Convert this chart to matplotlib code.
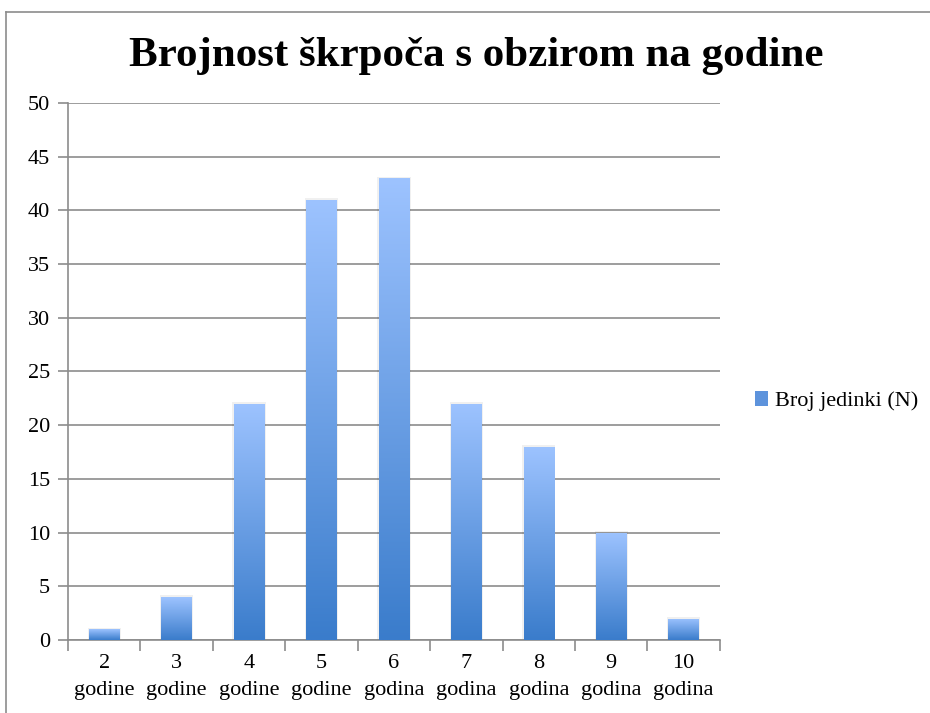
import numpy as np
import matplotlib
matplotlib.use('Agg')
import matplotlib.pyplot as plt
from matplotlib.colors import LinearSegmentedColormap
from matplotlib.patches import Rectangle
from matplotlib.lines import Line2D

years = ['2', '3', '4', '5', '6', '7', '8', '9', '10']
words = ['godine', 'godine', 'godine', 'godine', 'godina', 'godina', 'godina', 'godina', 'godina']
counts = [1, 4, 22, 41, 43, 22, 18, 10, 2]

title = 'Brojnost škrpoča s obzirom na godine'
series_name = 'Broj jedinki (N)'

plt.rcParams['font.family'] = ['Liberation Serif', 'DejaVu Serif']

fig = plt.figure(figsize=(9.3, 7.13), dpi=100)
ax = fig.add_axes([0.0731, 0.1024, 0.701, 0.7532])

# outer chart frame (top and left edges visible)
fig.add_artist(Line2D([0.0065, 0.0065], [0.0, 0.983], color='#8c8c8c', lw=1.2))
fig.add_artist(Line2D([0.0065, 1.0], [0.983, 0.983], color='#8c8c8c', lw=1.2))

cmap = LinearSegmentedColormap.from_list('bar', ['#3a7ccb', '#9dc3ff'])
grad = np.linspace(0, 1, 256).reshape(-1, 1)

x = np.arange(len(counts))
width = 0.42
bars = ax.bar(x, counts, width=width, color='none', lw=0, zorder=3)
for b in bars:
    bx, bw, bh = b.get_x(), b.get_width(), b.get_height()
    # soft shadow
    ax.add_patch(Rectangle((bx - 0.02, 0), bw + 0.04, bh + 0.15, color='#000000',
                           alpha=0.06, lw=0, zorder=2))
    im = ax.imshow(grad, cmap=cmap, extent=(bx, bx + bw, 0, bh), origin='lower',
                   aspect='auto', zorder=3)
    im.set_clip_path(b)

ax.set_xlim(-0.5, len(counts) - 0.5)
ax.set_ylim(0, 50)
ax.set_yticks(range(0, 51, 5))
ax.yaxis.grid(True, color='#8c8c8c', lw=1.2)
ax.set_axisbelow(True)

ax.set_xticks(np.arange(-0.5, len(counts), 1.0))
ax.set_xticklabels([])
ax.set_xticks(x, minor=True)
ax.set_xticklabels([f'{y}\n{w}' for y, w in zip(years, words)], minor=True)
for lbl in ax.get_xticklabels(minor=True):
    lbl.set_linespacing(1.55)
ax.tick_params(axis='x', which='minor', length=0, pad=10, labelsize=16)
ax.tick_params(axis='x', which='major', length=8, color='#8c8c8c', width=1.2)
ax.tick_params(axis='y', length=7, color='#8c8c8c', width=1.2, labelsize=16, pad=6)

for s in ['top', 'right']:
    ax.spines[s].set_visible(False)
for s in ['left', 'bottom']:
    ax.spines[s].set_color('#8c8c8c')
    ax.spines[s].set_linewidth(1.2)

fig.text(0.512, 0.922, title, ha='center', va='center', fontsize=31, fontweight='bold')

# legend
handle = Rectangle((0, 0), 1, 1, facecolor='#5d93dc', edgecolor='none')
fig.legend([handle], [series_name], loc='center left', bbox_to_anchor=(0.79, 0.437),
           frameon=False, fontsize=16, handlelength=0.6, handleheight=0.6, handletextpad=0.3)

fig.savefig('out.png', dpi=100, facecolor='white')
